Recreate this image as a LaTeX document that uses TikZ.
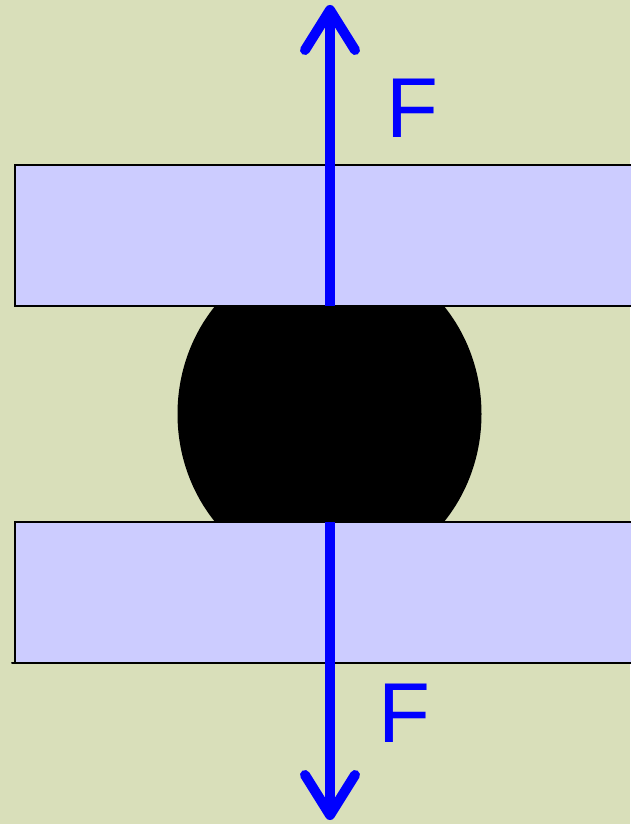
\documentclass[tikz,border=0pt]{standalone}
\usepackage{fontspec}
\setmainfont{Liberation Sans}
\usetikzlibrary{arrows.meta}
\definecolor{bgcol}{RGB}{217,223,186}
\definecolor{platecol}{RGB}{204,204,255}
\begin{document}
\begin{tikzpicture}[x=1pt,y=-1pt,line cap=round]
  \tikzset{plate/.style={fill=platecol,draw=black,line width=2pt,line cap=butt},
    force/.style={draw=blue,line width=10pt,line cap=butt,-{Straight Barb[round,length=40pt,width=50pt]}},
    flabel/.style={text=blue,font=\fontsize{85}{85}\selectfont,inner sep=0pt,anchor=base west}}
  \fill[bgcol] (0,0) rectangle (630,824);
  \useasboundingbox (0,0) rectangle (630,824);
  \coordinate (T) at (330,306); \coordinate (T1) at (330,5); \coordinate (B) at (330,522); \coordinate (B1) at (330,820);
  \begin{scope}
    \clip (0,306) rectangle (630,522);
    \fill[black] (329.5,414) ellipse [x radius=152, y radius=164];
  \end{scope}
  \path[plate] (640,165) -- (15,165) -- (15,306) -- (640,306);
  \path[plate] (640,522) -- (15,522) -- (15,663) -- (640,663);
  \draw[line width=2pt] (12,663) -- (15,663);
  \draw[force] (T) -- (T1);
  \draw[force] (B) -- (B1);
  \node[flabel] (Ft) at (386,138) {F};
  \node[flabel] (Fb) at (378,742) {F};
\end{tikzpicture}
\end{document}
